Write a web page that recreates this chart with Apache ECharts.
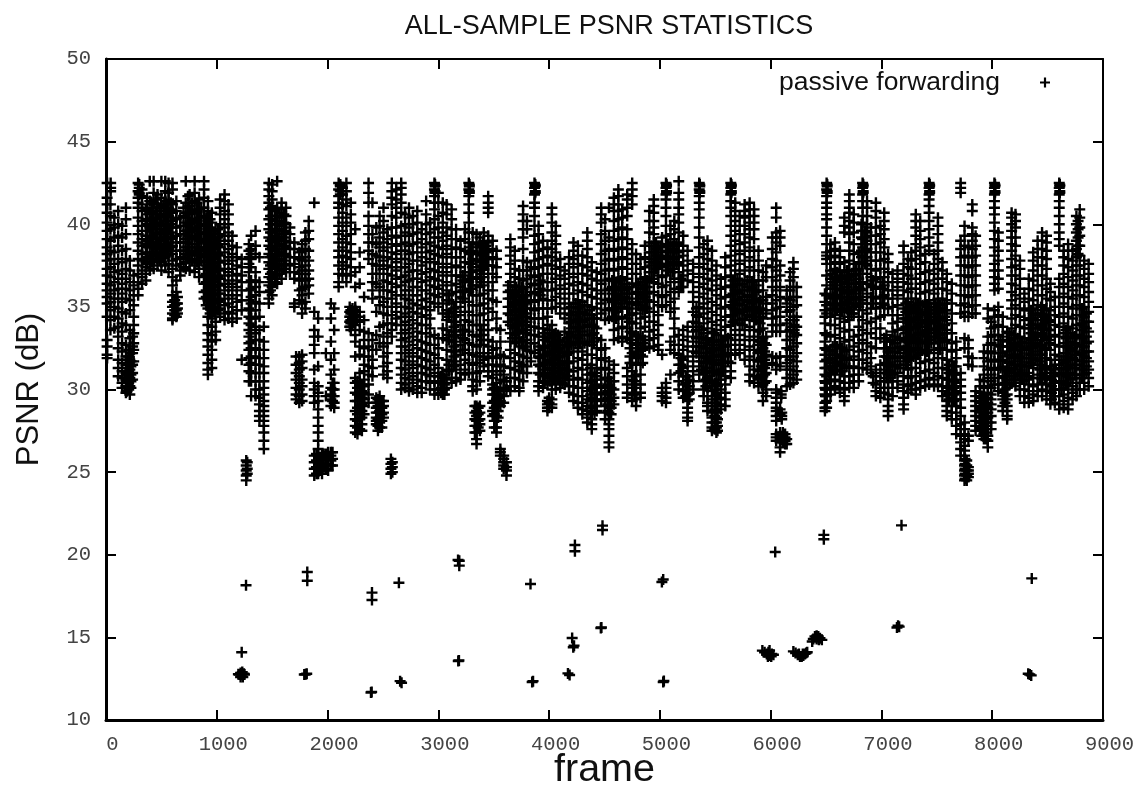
<!DOCTYPE html>
<html><head><meta charset="utf-8">
<style>html,body{margin:0;padding:0;background:#fff}#c{width:1142px;height:788px}</style>
<script src="https://cdn.jsdelivr.net/npm/echarts@6/dist/echarts.min.js"></script>
</head><body><div id="c"></div>
<script>
const titleText = 'ALL-SAMPLE PSNR STATISTICS';
const seriesName = 'passive forwarding';
const xLabel = 'frame';
const yLabel = 'PSNR (dB)';
// each row: frame, then the PSNR readings seen at that frame
const framesA = [
[10,42.5,41.6,41.2,40.7,40.1,39.6,39.1,38.6,38.2,37.8,37.3,36.9,36.4,36,35.6,35.2,34.4,33,32.6,32.1,31.9],
[40,41.2,40.5,39.7,39,38.4,37.9,37.4,36.8,36.3,35.8,35.3,34.8,34.2,33.6],
[75,40.4,39.8,39.2,38.3,37.6,37.1,36.5,36,35.5,35,34.4,33.7],
[110,40.8,40,39.3,38.7,37.9,37.2,36.7,36.1,35.5,34.9,34.3,33.8,33.2,32.5,31.8,31.3,30.8],
[145,39.9,39.2,38.4,37.7,37,36.4,35.8,35.3,34.7,34,33.5,32.8,32.3,31.6,31.1,30.7,30.4,30.1],
[180,41,40.3,39.4,38.5,37.9,37.3,36.7,36.1,35.5,34.6,33.9,32.7,32,31.5,31,30.6,30.2,29.8],
[215,37.8,37.2,36.5,36,35.4,34.8,33.6,33.1,32.4,31.8,31.2,30.7,30.2,29.7],
[250,36.9,36.3,35.7,35.1,34.4,33.9,33.4,32.8,32.4,31.7],
[290,42.5,42,41.6,41.3,41,40.4,39.9,39.4,38.9,38.4,37.9,37.5,37,36.5,36.1,35.7],
[325,42.1,41.7,41.2,40.8,40.2,39.6,39.1,38.7,38.2,37.8,37.2,36.8,36.4],
[360,40.9,40.3,39.9,39.3,38.8,38.3,37.9,37.4,37,36.6,37.7],
[395,42.6,41.4,40.7,40.2,39.8,39.3,38.9,38.3,37.9,37.6,37.2],
[430,42.6,41.9,41.3,41,40.4,40,39.5,39.1,38.6,38.2,37.8,37.3],
[465,41.8,41.2,40.6,40.1,39.7,39.2,38.7,38.3,37.9,37.5],
[500,42.6,41.6,41.1,40.5,40,39.4,39,38.5,38,37.7,37.2],
[535,42.6,42,41.4,40.8,40.2,39.7,39.2,38.8,38.4,38,37.5],
[565,42.5,41.9,41.5,41,40.5,39.9,39.4,38.9,38.5,38.1,37.6,37.1],
[600,42.5,42.1,41.2,40.7,40.2,39.8,39.2,38.7,38.2,37.8,37.3,36.8,36.3,35.7,35.3,35,34.6,34.3,34.2],
[635,41.4,40.8,40.3,39.8,39.3,38.9,38.4,37.9,37.5,36.6,35.9,35.2,34.8,34.4],
[670,40.4,39.9,39.4,38.9,38.4,38,37.6,37.2,36.9],
[720,42.6,41.3,40.7,40.1,39.6,39.1,38.6,38.2,37.7,37.3],
[755,41.8,41.1,40.6,40,39.5,39.1,38.6,38.1,37.7,37.2],
[800,42.6,41.9,41.4,40.9,40.3,39.8,39.3,38.8,38.4,37.9,37.5,37.1],
[840,41.5,40.9,40.4,39.9,39.4,39,38.5,38.1,37.7,37.3,36.8],
[885,42.6,42.1,41.6,41,40.5,40,39.5,39,38.6,38.2,37.7,37.3,36.9,36.4,35.9,35.5],
[920,41.4,40.8,40.2,39.7,39.2,38.8,38.3,37.8,37.4,36.9,36.4,35.9,35.4,34.9,34.4,33.9,33.4,33,32.6,32.1,31.6,31.2,30.9],
[955,40.7,40.1,39.6,39.1,38.6,38.2,37.7,37.2,36.8,36.3,35.8,35.3,34.8,34.3,33.8,33.3,32.9,32.4,31.8,31.3],
[990,39.7,39.2,38.8,38.3,37.9,37.4,36.9,36.5,36,35.5,35,34.6,34.1,33.5,33],
];
const framesB = [
[1030,41.5,41,40.6,40,39.4,39,38.6,38.1,37.7,37.2,36.7,36.3,35.8,35.4,34.9,34.4],
[1070,41.8,41.4,40.8,40.3,39.8,39.3,38.8,38.3,37.8,37.3,36.9,36.4,36,35.5,35.1,34.6,34.2],
[1105,41.2,40.6,40,39.5,39,38.5,38,37.6,37.1,36.6,36.2,35.7,35.2,34.7,34.3],
[1140,39.3,38.7,38.2,37.8,37.3,36.9,36.4,36,35.5,35,34.6,34.1],
[1180,38.6,38,37.5,37,36.6,36.2,35.7,35.3,34.8,34.3],
[1225,37.9,37.4,36.9,36.5,36,35.4,34.8],
[1290,38.8,38.4,38,37.6,37.1,36.5,36,35.4,34.9,34.4,34,33.6,33.2,32.8,32.4,31.9,31.5,31.1,30.5],
[1310,39.3,38.5,38.2,37.9,37.4,36.6,36.1,35.6,35.2,34.8,34.3,33.9,33.4,32.9,32.5,32,31.6,31,30.5,29.6],
[1350,39.6,38.7,38.2,37.1,36.6,36.2,35.7,35.3,34.8,34.3,33.8,33.4,33,32.5,32,31.5,31,30.5,30,29.6],
[1385,38,36.5,35.9,35.2,34.4,33.6,33,32.4,31.9,31.5,31,30.5,30,29.5,29.1,28.7,28.4,28.1],
[1425,33.8,32.9,32.4,31.9,31.4,31,30.5,30.1,29.7,29.3,29,28.7,28.4,28.1,27.8,27.4,26.9,26.4],
[1470,42.5,42.1,41.7,41.3,40.9,40.3,39.7,39.2,38.7,38.2,37.7,37.3,36.8,36.3,35.9,35.5,35.2],
[1500,42.4,42,41.5,41.1,40.5,40,39.5,39.1,38.6,38.1,37.6,37.1,36.7,36.2,35.7],
[1545,42.6,41,40.5,40,39.6,39.1,38.7,38.2,37.8,37.3,36.9,36.4],
[1585,41.3,40.9,40.4,39.9,39.4,39,38.5,38.1,37.6,37.2,36.7],
[1625,41,40.5,40,39.5,39,38.6,38.1,37.6,37.1],
[1660,39.8,39.4,38.9,38.5,38,37.5,37.1],
[1700,38.9,38.5,38,37.6,37.1,36.7,35.2,35],
[1745,38.3,37.9,37.4,37,36.6,36,35.4,32,31.6,31.2,30.8,30.4,30,29.6,29.2],
[1770,38.8,38.4,37.8,37.2,36.7,36.1,35.7,35.2,34.6,32.1,31.7,31.3,30.6,30.2,29.7,29.3],
[1800,39.5,39,38.5,38,37.5,37,36.6,36.2,35.3,34.9],
[1830,40.2,39.6,39.1,38.4,37.8,37.2,36.7,36.3,35.8],
[1880,41.3,34.7,33.6,33.2,32.7,32.2,31.2,30.4,30,29.6,29.2],
[1915,34.3,33.2,31.4,30.2,29.8,29.3,28.8,28.3,27.8,27.4,26.9,26.4,26,25.6,25.2,24.9],
[1950,26,25.8,25.4,25.2,24.9],
[1985,32.2,29.6,26.1,25.8,25.5,25.2],
[2030,35.2,34.3,32.9,31.8,30.9,30.1,29.7,29.4,29,26.2,26,25.7,25.4],
[2060,34.9,33.6,32.2,31.2,30.4,30,29.6,29.2,28.9],
[2100,42.5,42.1,41.7,41.3,41,40.4,39.9,39.4,38.9,38.4,38,37.5,37,36.5,36.2],
[2135,42.2,41.8,41.2,40.7,40.1,39.6,39.1,38.6,38.1,37.7,37.3,36.9],
[2170,42.5,42,41.5,41.1,40.4,39.9,39.3,38.9,38.4,38,37.5,37,36.5],
[2210,41.3,40.6,40.1,39.4,38.8,38.3,37.9,37.4,36.9,34.8,34.6,34.4,34.2,34,33.8,33.6],
[2250,39.7,37.1,36.2,35,34.8,34.5,34.2,33.9,33.3,32.9,32,30.7,30.4,29.8,29.3,28.7,28.2,27.8,27.4],
[2290,38.3,37.4,36.4,34.7,34.4,34.1,33.6,32.6,32.1,31,30.5,30.2,29.9,29.6,29.3,29,28.6,28.2,27.6],
[2330,35.6,34.2,33.5,33,32.5,32,31.5,31.1,30.6,30.2,29.8,29.4,29,28.5],
[2370,42.5,41.9,41.3,40.5,39.9,39.4,38.9,38.4,37.9,33.4,32.6,32,31.4,30.9,30.3,29.7,29.2],
[2405,41.3,39.4,38.9,38.2,37.6,37,36.5,36,35.5,33,32.4,31.8,31.3,30.8],
[2440,39.8,38.8,38.1,37.5,37,36.4,34.7,33.3,32.4,29.5,29.2,28.9,28.6,28.3,28.1,27.9],
[2470,40.5,39.9,39.2,38.6,38,37.5,37,36.2,35.6,35.1,33.8,32.8,29.6,29.3,29,28.7,28.3,28,27.7],
[2505,41,40.2,39.5,38.9,38.4,37.8,37.3,36.6,36,35.3,34.6,33.9,33.2,32.6,32,31.4,30.9,29.3,29,28.6,28.3],
[2540,39.7,39.1,38.6,38,37.5,37,36.5,36,35.5,35,34.5,34,33.4,32.8,32.2,31.6,31.1,30.7],
[2580,42.5,42,41.6,41.2,40.5,39.8,39.3,38.8,38.3,37.9,37.4,36.9,36.4,35.9,35.5,35,34.5,34,33.6,33.2],
[2620,42.1,41.5,41,40.4,39.8,39.2,38.7,38.2,37.7,37.2,36.7,36.2,35.7,35.2,34.7,34.3,33.9],
[2665,42.5,42.2,41.8,41.3,40.7,39.9,39.3,38.8,38.4,37.9,37.4,36.8,36.3,35.7,35,34.4,33.9,33.4,33,32.6,32.2,31.8,31.3,30.9,30.4,30],
[2700,40.6,40,39.5,38.9,38.4,37.9,37.4,36.9,36.5,36,35.5,35,34.6,34.1,33.6,33.1,32.6,32.2,31.7,31.2,30.7,30.3,30.1],
[2735,41,40.4,39.8,39.3,38.7,38.2,37.6,37.1,36.6,36,35.4,34.9,34.4,33.9,33.4,32.9,32.4,32,31.5,31,30.6,30.1,29.9],
[2770,40.5,40,39.4,38.8,38.3,37.8,37.2,36.7,36.2,35.7,35.2,34.7,34.2,33.7,33.2,32.7,32.2,31.7,31.3,30.8,30.4,30],
[2810,40.8,40.1,39.5,38.9,38.3,37.8,37.2,36.7,36.2,35.7,35.1,34.6,34,33.5,33,32.5,32,31.5,31,30.6,30.2,29.8],
[2850,39.7,39.1,38.6,38,37.5,37,36.5,36,35.4,34.9,34.4,33.9,33.4,32.9,32.4,31.9,31.4,31,30.5,30.1,29.8],
[2890,41.4,40.6,40,39.4,38.8,38.3,37.7,37.1,36.6,36,35.5,35,34.5,33.9,33.4,32.8,32.3,31.8,31.3,30.9,30.5],
[2925,40.1,39.5,38.9,38.4,37.9,37.3,36.8,36.3,35.8,35.3,34.8,34.3,33.7,33.2,32.7,32.2,31.7,31.2,30.8,30.4,30],
];
const framesC = [
[2965,42.5,42.1,41.7,41.3,40.9,40.3,39.7,39.2,38.7,38.2,37.7,37.2,36.7,36.2,35.7,35.2,33.3,32.7,32.1,31.5,31,30.5,30,29.7],
[3000,41.9,41.3,40.5,39.8,39.2,38.6,38.1,37.6,37.1,36.6,36.1,35.6,35,33.1,32.5,31.9,31.3,30.8,30.4,30,29.7],
[3040,41.3,40.7,40.1,39.5,39,38.5,38,37.4,36.9,36.3,35.8,35.2,34.6,33.7,33.1,30.9,30.4,30,29.7],
[3075,41.2,40.6,39.8,39.3,38.7,38.2,37.6,37.1,36.5,36,35.4,34.8,34.2,33.6,33,32.4,31.8,31.2,30.6,30.1],
[3120,40.9,40.3,39.7,39.1,38.5,38,37.4,36.9,36.3,35.8,35.2,34.7,34.1,33.5,32.9,32.3,31.7,31.2,30.7,30.4],
[3160,39.7,39.1,38.6,38,37.5,36.9,36.4,35.9,35.3,34.7,34.1,33.5,32.9,32.3,31.7,31.2,30.7,30.5],
[3200,39,38.5,38,37.4,36.8,36.2,35.6,35,34.5,33.9,33.3,32.7,32.1,31.5,31,30.6],
[3240,39.7,39.1,38.4,37.7,37.1,36.5,35.9,35.3,34.7,34.2,33.6,33,32.4,31.8,31.2,30.9],
[3275,42.5,42.1,41.7,41.2,40.7,40.1,39.5,38.9,38.3,37.7,37.1,36.5,35.9,35.3,34.7,34.1,33.5,32.8,32.2,31.6,31],
[3310,39.5,38.9,38.4,37.9,37.4,36.8,36.3,35.7,35.1,34.5,33.9,33.3,32.7,32.1,31.5,31,30.6,30.2,29.9],
[3345,39.4,38.8,38.3,37.8,37.2,36.8,36.3,35.7,35.1,34.5,33.9,33.2,32.6,32,31.6,31,30.5,30,29,28.7,28.4,28.1,27.8,27.4,27,26.7],
[3375,39.2,38.7,38.2,37.7,37.2,36.7,36.2,35.7,35.1,34.5,33.9,33.3,32.7,32.2,31.6,31.1,30.5,29,28.6,28.2,27.9,27.5],
[3410,39.5,39,38.4,37.9,37.3,36.8,36.3,35.8,35.2,34.6,33.9,33.3,32.7,32.2,32,31.8,31.4],
[3450,41.7,41.3,41,40.7,39.3,38.9,38.4,37.9,37.5,37,36.5,36,35.5,34.9,34.2,33.6,33,32.6,32.2,31.9,31.5,31.1,30.8],
[3490,39,38.5,38,37.5,37,36.5,36,35.4,34.7,32.9,32.4,32,31.5,31.1,30.7,30.3,30,29.7,29.2,28.7,28.4],
[3525,38.4,37.9,37.4,36.8,35.3,34.3,33.7,32.5,31.9,31.4,30.9,30.4,30,29.7,29.4,29,28.7,28.4,28.1,27.7,27.4],
[3560,33.6,32.9,32.1,31.5,31.1,30.6,30.1,29.7,29.3,29,26.4,26.2,26],
[3590,32,31.4,30.9,30.5,30.1,29.6,29.2,26,25.8,25.6,25.4,25.2],
[3615,30.5,30,25.6,25.3,25.1,24.8],
[3650,39.1,38.6,38.1,37.6,37,36.5,36,35.5,35,34.5,33.9,33.4,32.9,32.4,31.9,31.3,30.7,30.2,29.9],
[3690,38.4,37.8,37.3,36.8,36.3,35.8,35.3,34.8,34.3,33.8,33.3,32.8,32.2,31.7,31.2,30.7,30.2],
[3730,37.2,36.7,36.2,35.7,35.2,34.7,34.1,33.6,33.1,32.6,32.1,31.6,31.1,30.6,30.1,29.9],
[3765,41.1,40.6,40.2,39.7,39.2,38.5,37.8,37.2,36.6,36.1,35.6,35.1,34.6,34.1,33.6,33,32.5,32,31.5,31,30.5],
[3800,40.2,39.7,37.7,37.2,36.7,36.2,35.7,35.2,34.6,34.1,33.6,33,32.4,31.9,31.4,31],
[3835,37.4,36.9,36.4,35.9,35.4,34.9,34.3,33.8,33.3,32.8,32.3,31.7],
[3868,42.5,42.2,41.8,41.3,41,40.5,39.9,39.3,38.8,38.3,37.8,37.3,36.8,36.3,35.8,35.3,34.8,34.3,33.8,33.3,32.8,32.2],
[3905,39.9,39.4,38.9,38.4,37.9,37.4,36.9,36.4,35.9,35.4,34.9,34.3,33.7,33.2,32.6,32,31.5,31,30.5,30.2,29.9],
[3945,39,38.5,38,37.5,37,36.5,36,35.5,34.9,34.3,33.7,33.2,32.6,32,31.5,31,30.5,30.1],
[3985,38.6,38.1,37.6,37,36.5,36,35.4,34.9,34.4,33.9,33.4,32.9,32.3,31.7,31.2,30.7,30.3,29.3,29.1,28.9,28.7],
[4025,41,40.6,40.1,39.5,39,38.5,38,37.5,37,36.5,36,35.4,34.9,33.9,33.3,32.7,32.1,31.6,31,30.5,30,29.4,29.1,28.9],
[4060,39.9,39.3,38.8,38.3,37.8,37.3,36.7,36.1,35.6,35,33.4,32.8,32.3,31.8,31.3,30.8,30.3,30],
[4100,37.9,37.4,36.9,36.3,35.8,35.2,34.6,33,32.5,32,31.5,31,30.5,30.1],
[4140,37.2,36.7,36.1,35.5,34.9,34.3,33.5,32.9,32.3,31.7,31.2,30.7,30.3],
[4180,38,37.6,37,36.4,35.8,35.2,34.6,34,33.4,32.8,32.2,31.6,31.1,30.6,30.2,29.8],
[4220,38.9,38.4,37.9,37.4,36.8,36.3,35.8,35.2,34.7,34.1,33.5,32.9,32.3,31.7,31.1,30.6,30.2,29.7,29.3],
[4260,38.7,38.1,37.6,37,36.5,36,35.4,34.9,34.3,33.7,33.1,32.5,31.9,31.3,30.7,30.1,29.6,29.2,28.9],
[4300,38.1,37.5,37,36.4,35.9,35.3,34.7,34.1,33.5,32.9,32.3,31.8,31.2,30.6,30.1,29.6,29.2,28.8,28.5],
[4345,39.5,39,38.5,38,37.4,36.9,36.3,35.7,35.1,34.5,33.9,33.3,32.7,32.1,31.5,30.9,30.4,29.9,29.4,29,28.7,28.3,28],
[4385,37.7,37.2,36.7,36.1,35.6,35,34.5,33.9,33.3,32.7,32.1,31.5,31,30.5,30,29.5,29,28.6,28.2,27.9,27.6],
[4430,37.1,36.6,36,35.5,34.9,34.3,33.7,33.1,32.5,31.9,31.3,30.8,30.3,29.8,29.4,29,28.7],
[4470,41,40.6,40.1,39.4,38.8,38.2,37.6,37,36.4,35.8,35.2,34.6,33,32.4,31.8,31.2,30.6,30.1,29.7,29.3],
[4505,40.3,39.6,39,38.4,37.8,37.2,36.6,36,35.4,34.8,34.2,32.5,31.9,31.3,30.7,30.2,29.8,29.4,29,28.6,28.2],
[4540,41,39.2,38.5,37.9,37.3,36.7,36.1,35.5,34.9,34.3,31.7,31.2,30.7,30.2,29.8,29.4,29,28.6,28.2,27.9,27.6,27.2,26.8,26.5],
[4585,41.6,41.2,40.8,40.2,39.6,39,38.4,37.8,37.2,36.6,36,35.4,34.8,34.2,33.6,33,31.5,31,30.5,30,29.5,29.1],
[4625,42.1,41.7,41.2,40.8,40.3,39.7,39.1,38.5,37.9,37.3,36.7,36.1,35.5,34.9,34.3,33.7,33.1],
[4660,40.9,40.4,39.8,39.2,38.6,38,37.4,36.8,36.2,35.6,35,34.4,33.8,33.2,32.9],
[4705,41.8,41.5,41,40.5,39.7,39.1,38.5,37.9,37.3,36.7,36.1,35.5,34.9,34.3,33.7,33.1,31.3,30.8,30.3,29.8,29.5],
[4750,42.5,42.1,41.7,41.2,38.8,38.2,37.6,37,36.4,35.8,35.2,34.6,34,33.4,32.8,32.2,31.6,31.1,30.6,30.1,29.7,29.3],
[4785,38.2,37.6,37,36.4,35.8,35.2,34.6,34,33.3,32.7,32.1,31.5,30.9,30.3,29.8,29.4,29],
[4825,37.9,37.3,36.7,36.1,35.5,34.9,34.3,33.7,33.1,32.5,32.1,31.5,30.9,30.3,29.8,29.5],
[4865,38.7,38,37.4,36.8,36.2,35.6,35,34.4,33.8,33,32.6],
[4905,40.8,40.2,39.5,38.9,38.3,37.7,37.1,36.5,35.9,35.3,34.7,34.1,33.5,33,32.5],
[4945,41.5,41.1,40.7,40.2,39.8,39.4,38.9,38.3,37.7,37.1,36.5,35.9,35.3,34.7,34.1,33.6,33.1,32.6],
[4985,38.7,38.1,37.5,36.9,36.4,35.7,35.1,34.5,33.9,33.3,32.7,32.4],
[5020,39.2,38.6,38,37.4,36.8,36.2,35.6,35,32.1,30.1,29.8,29.6,29.3],
[5055,42.5,42.2,41.8,41.5,41,40.5,39.9,39.3,38.7,38.1,37.5,36.9,36.3,35.7,35.1,30.4,30.1,29.8,29.5,29.2],
[5095,39.9,39.4,38.9,38.3,37.7,37.1,36.5,35.9,35.3,34.7,32.9,32.4,30.9],
[5130,40.2,39.7,39.1,38.5,37.9,37.3,36.7,36.1,35.5,34.9,34.3,33.7,33.2,32.7,32.2],
[5170,42.6,41.9,41.5,41,40.6,40.1,39.5,38.9,38.3,37.7,37.1,36.5,35.9,33.3,32.7,32.1,31.5,31,30.5,30],
];
const framesD = [
[5210,39.3,38.7,38.1,37.5,36.9,36.2,33.6,33,32.4,31.8,31.3,30.8,30.3,29.9,29.5],
[5250,38.4,37.8,37.2,36.6,33.8,33.2,32.6,32,31.4,30.8,30.2,29.7,29.3,28.9,28.6,28.3,28.1],
[5300,37.6,37,36.5,35.9,35.3,34.7,34.1,33.5,32.9,32.3,31.7,31.1,30.5,30],
[5355,42.5,42.1,41.7,41.3,40.9,40.4,39.8,39.2,38.6,38,37.4,36.8,36.2,35.6,35,34.4,33.8,33.2,32.6,32,31.4,30.9],
[5395,38.8,38.2,37.6,37,36.4,35.8,35.2,34.6,34,33.4,32.8,32.2,31.6,31,30.5,30,29.6],
[5430,39,38.5,37.9,37.3,36.7,36.1,35.5,34.9,34.3,33.7,33.1,32.5,31.9,31.3,30.7,30.1,29.6,29.2,29,28.7],
[5470,38.4,37.8,37.2,36.6,36,35.3,34.7,34.1,33.5,32.9,32.3,31.7,31.1,30.5,29.9,29.4,29,28.6,28.3,28,27.7,27.5],
[5510,37.5,36.9,36.3,35.7,35.1,34.5,33.9,33.3,32.7,32.1,31.5,30.9,30.3,29.7,29.2,28.7,28.3,28,27.7,27.4],
[5550,36.7,36.1,35.5,34.9,34.2,33.6,33,32.4,31.8,31.2,30.6,30,29.5,29.1,28.8],
[5590,38,37.4,36.8,36.2,35.6,35,34.4,33.8,33.2,32.6,32,31.4,30.8,30.3,29.8,29.4,29],
[5640,42.5,42.2,41.8,41.4,41,40.5,39.9,39.3,38.7,38.1,37.5,36.9,36.3,35.7,35.1,34.5,33.9,33.3,32.7,32.1,31.6,31.1,30.7],
[5680,41.3,40.8,40.2,39.6,39,38.4,37.8,37.2,36.6,36,35.4,34.8,34.2,33.6,33,32.4,32.1],
[5720,40.5,39.9,39.4,38.8,38.2,37.6,37,36.4,35.8,35.2,34.6,34,33.3,32.7,32.2],
[5765,41.2,40.8,40.4,39.9,39.4,38.9,38.4,37.8,37.2,36.6,36,35.4,34.8,34.2,33.6,33,32.4,31.8],
[5810,41.3,40.9,40.5,40.1,39.7,39.2,38.6,38,37.4,36.8,36.2,35.6,35,34.4,33.8,33.2,32.6,32,31.4,30.9,30.5],
[5850,40.9,40.5,40.1,39.7,39.1,38.4,37.8,37.2,36.6,36,35.4,34.8,34.2,33.6,33,32.4,31.8,31.2,30.8,30.4],
[5890,38.4,37.8,37.2,36.6,36,35.3,34.7,34.1,33.5,32.9,32.3,31.7,31.1,30.6,30.2],
[5930,37.1,36.6,36,35.4,34.8,34.3,33.7,33.1,32.5,32,31.4,30.8,30.3,29.8,29.3],
[5960,37.5,36.8,35.6,35.2,34.6,33.2,32.7,32.1,31.5,31,30.5,30,29.6],
[6015,39.2,38.5,37.9,37.4,36.8,36.2,35.7,35.2,34.8,34.3,33.9,33.5,32,31.6],
[6050,41,40.4,39.5,39.2,38.9,38.3,37.8,37.2,36.6,36,35.4,34.9,34.4,33.9,33.5,31.9,31.5,31.2,30,29.8,29.5,29.2,28.9,28.7,28.4,28.1,27.3,27.1,26.9],
[6085,39.6,39.2,38.7,37.5,36.9,36.2,35.6,35,34.4,33.9,33.5,32,31.4,28.8,28.5,27.4,27.2,27,26.8,26.5,26.2],
[6145,36,35.5,35.2,34.7,34,33.5,33,32.5,32,31.6,31.2,30.7,30.2,27,26.7],
[6175,37.1,36.6,36,35.4,34.8,34.2,33.6,33,32.4,31.8,31.2,30.7,30.3],
[6205,37.7,37.3,36.8,36.2,35.6,35,34.4,33.8,33.2,32.6,32,31.4,30.9,30.4],
[6235,36.2,35.6,35.1,34.4,33.8,33.3,32.8,32.2,31.7,31.1,30.6],
[6490,35.8,35.3,34.8,34.4,34,33.4,32.9,32.5,32.1,31.7,31.3,30.9,30.5,30.1,29.7,29.2,28.9,28.7],
[6505,42.5,42.1,41.7,41.3,41,40.6,40.3,39.8,39.3,38.8,38.3,38.1,37.9,37.6,36.9,36.3,35.7,35.1,34.6,33.3,32.4,31.8,31.3,30.8,30.4,30,29.6,29.3,28.9],
[6540,38.8,38.4,38,37.6,37.2,36.7,36.1,35.5,34.9,34.4,33.9,33.2,32.4,31.9,31.4,30.9,30.5,30.1,29.7],
[6580,38.9,38.5,38.1,37.7,37.3,36.8,36.3,35.7,35.1,34.5,33.9,33.3,32.7,32.1,31.6,31.1,30.6,30.2,30],
[6625,38.4,38,37.6,37.2,36.7,36.1,35.5,34.9,34.3,33.7,33.1,32.5,31.9,31.4,30.9,30.5,30.1,29.8],
[6665,40.4,39.9,39.5,37.7,37.1,36.5,35.9,35.3,34.7,34.1,33.5,32.9,32.3,31.8,31.3,30.8,30.4,30,29.6,29.3],
[6710,41.8,41.4,41,40.7,40.2,39.8,39.4,38.9,38.4,37.8,37.2,36.6,36,35.4,34.8,34.2,33.6,33,32.4,31.8,31.3,30.8,30.4,30.1],
[6750,40.6,40.1,39.5,38.8,38.2,37.6,37,36.4,35.8,35.2,34.6,33.2,32.6,32,31.4,30.9,30.5,30.1],
[6795,38.3,37.7,37.2,36.7,36.2,35.6,35,34.4,33.8,33.3,32.8,32.3,31.8,31.3,30.9,30.5],
[6830,42.5,42.2,41.8,41.4,41,40.5,40.1,39.6,39.1,38.6,38.1,37.6,37,36.5,36,35.4,34.8,34.2,33.6,33,32.4,31.8,31.3],
[6870,41.4,41,40.5,40,39.5,39,38.5,38,37.5,37,36.4,35.8,35.2,34.6,34,33.4,32.8,32.2,31.6,31.2],
[6905,39.8,39.3,38.8,38.3,37.8,37.3,36.8,36.3,35.6,34.9,34.1,33.4,32.6,31.9,31.4,31],
[6950,41.3,40.8,40.4,39.8,39.3,38.8,38.3,37.8,37.2,36.7,36.1,35.5,34.9,34.3,33.7,33.1,32.5,31.2,30.8,30.3,29.9,29.6],
[6990,39.9,39.4,38.9,38.3,37.8,37.3,36.8,36.2,35.6,35,34.4,33.7,33.1,31.5,31,30.5,30.1,29.8,29.5],
[7025,40.7,40.2,39.7,39.1,38.6,37.9,37.3,36.8,36.3,35.7,35.1,34.5,33.1,32.5,32,31.5,31,30.5,30.1,29.8],
[7060,38.2,37.7,37.1,36.5,36,35.5,34.9,32.3,31.9,31.4,30.9,30.5,30.1,29.7,29.4,29,28.7,28.4],
[7100,37,36.5,36,35.5,35,34.5,34,33.5,33,32.5,31.9,31.4,30.9,30.5,30.1,29.6],
[7145,37.2,36.7,36.2,35.7,35.1,34.5,34.1,33.6,33,32.5,32,31.5,31,30.5,30.1],
[7200,38.7,38.3,37.6,37,36.5,36,35.5,34.9,34.3,33.7,33.1,32.4,31.9,31.3,30.8,30.3,29.9,29.5,29.1,28.8],
[7240,37.9,37.4,36.9,36.4,35.9,35.3,34.8,34.2,33.6,33,32.4,31.8,31.2,30.7,30.2,29.8],
[7270,38.3,37.8,37.3,36.7,36.1,35.5,34.9,34.3,33.7,33.1,32.5,31.9,31.3,30.8,30.3,30],
[7310,40.6,40.2,39.8,39.3,38.8,38.4,37.9,37.3,36.7,36.1,35.5,34.9,34.3,33.7,33.1,32.5,31.9,31.3,30.8,30.4,30,29.7],
[7350,40.2,39.6,39.1,38.6,38.1,37.6,37,36.4,35.8,35.2,34.6,34,33.4,32.8,32.2,31.6,31,30.5,30.1],
[7395,38.2,37.7,37.1,36.5,35.9,35.3,34.7,34.1,33.5,32.9,32.3,31.7,31.1,30.6,30.2],
[7430,42.5,42.2,41.8,41.5,41.1,40.7,40.2,39.7,39.2,38.7,38.4,37.2,36.6,36,35.4,34.8,34.2,33.6,33,32.4,31.8,31.2,30.7,30.3],
[7475,38.2,37.6,37,36.4,35.8,35.2,34.6,34,33.4,32.8,32.2,31.6,31,30.6,30.2],
[7510,40.4,39.9,39.4,38.9,38.4,37.9,37.3,36.7,36.1,35.5,34.9,34.3,33.7,33.1,32.5,31.9,31.3,30.8,30.3],
[7550,37.7,37.2,36.7,36.1,35.5,34.9,34.3,33.7,33.1,32.5,31.9,31.3,30.7,30.2,29.9,29.6],
[7590,37,36.5,36,35.4,34.8,34.2,33.6,33,32.4,31.8,31.2,30.6,30.1,29.7,29.3,29,28.7,28.4],
[7635,36.4,35.8,35.2,34.6,34,33.4,32.8,32.3,31.7,31.1,30.5,30,29.5,29,28.6,28.2],
[7675,32.9,32.4,31.9,31.4,30.9,30.4,29.9,29.4,29,28.6,28.2,27.8,27.3],
[7715,42.5,42.2,41.9,39,38.5,38,37.5,36.9,36.3,35.7,35.1,34.6,31,30.6,30.2,29.8,29.4,28.9,28.4,27.9,27.6,27.2,26.8,26.4,26],
[7750,39.9,39.3,38.7,38.1,37.5,36.9,36.3,35.7,35.2,34.7,34.4,33.1,32.5,28,27.6,27.3,27,26.6,26.3,26,25.7,25.4,25.1,24.8,24.5],
[7785,38.6,38,37.4,36.8,36.2,35.6,35,34.4,33,32.5,32,31.5,27.2,26.9,25.3,25.1,24.9,24.7],
[7820,41.2,40.8,39.8,39.4,39,38.5,38,37.5,36.9,36.3,35.7,35.1,34.6,31.9,31.4],
[7850,39.3,38.7,38.1,37.5,36.9,36.3,35.7,35.1,34.6,29.9,29.6,29.3,29,28.7,28.4,28.1,27.8,27.5],
[7890,30.6,30.2,29.8,29.5,29.2,28.9,28.6,28.3,28,27.7,27.5],
[7925,32.3,31.9,31.4,30.9,30.5,30.1,29.7,29.4,29.1,28.8,28.5,28.2,27.9,27.6,27.3,27],
[7960,34.9,34.3,33.2,32.7,32.2,31.7,31.2,30.7,30.2,29.8,29.5,29.2,28.9,28.6,28.3,28,27.6,27.2,26.9,26.5],
[7990,34.1,33.7,33.2,32.8,32.3,31.8,31.3,30.9,30.5,30.1,29.7,29.4,29.1,28.8,28.4,28,27.6],
[8020,42.5,42.2,41.8,41.4,41,40.6,40.1,39.6,39.1,38.6,38.1,37.6,37.2,36.8,36.4,36,34.8,34.4,33.8,33.3,32.7,32.2,31.7,31.2,30.7,30.3],
[8055,39.5,39,38.4,37.8,37.2,36.7,36.1,35,34.5,33.9,33.3,32.7,32.2,31.7,31.2,30.7,30.3,29.9],
[8095,34.4,33.8,33.2,32.6,32,31.4,30.8,30.3,29.8,29.4,29,28.7],
[8135,33.5,32.9,32.3,31.7,31.1,30.6,30.1,29.7,29.4,29,28.7,28.4,28.2],
[8175,40.7,40.4,40,39.6,39.2,38.8,38.4,37.9,37.4,36.9,36.4,35.9,35.4,34.9,34.3,33.7,33.1,32.5,31.9,31.3,30.8,30.4],
[8210,40.6,40.2,39.8,39.2,38.7,38.1,37.5,36.9,36.3,35.7,35.1,34.5,33.9,33.3,32.7,32.1,31.5,31,30.6,30.2],
[8250,37.8,37.3,36.7,36.1,35.5,34.9,34.4,33.8,33.2,32.6,32,31.4,30.9,30.4,30,29.6],
[8290,35.8,35.3,34.8,34.2,33.7,33.1,32.5,31.9,31.4,30.9,30.5,30,29.6,29.2],
[8330,36.7,36.1,35.5,34.9,34.3,33.7,33.1,32.5,31.9,31.4,30.8,30.3,29.9,29.5,29.2],
[8370,38.3,37.8,37.2,36.6,36,35.4,34.9,34.3,33.7,33.1,32.5,31.9,31.3,30.7,30.2,29.7,29.3],
[8410,39,38.5,38,37.5,36.9,36.3,35.7,35.1,34.5,33.9,33.3,32.7,32.1,31.5,30.9,30.3,29.9,29.6],
[8450,39.5,39,38.5,38,37.5,36.9,36.3,35.7,35.1,34.5,33.9,33.3,32.7,32.1,31.5,30.9,30.4,30,29.6],
[8490,39.3,38.9,38.4,37.9,37.3,36.7,36.1,35.5,34.9,34.3,33.7,33.1,32.5,31.9,31.3,30.8,30.3,29.9,29.4],
[8525,36.4,35.9,35.4,34.8,34.2,33.6,33,32.4,31.8,31.2,30.7,30.2,29.8,29.4,29.1],
[8565,35.6,35,34.5,33.9,33.3,32.7,32.1,31.5,31,30.5,30,29.6,29.2],
[8605,42.5,42.2,41.8,41.4,41,40.5,40,39.5,39.1,38.7,36.7,36.2,35.6,35,34.4,33.8,33.2,32.6,32,31.5,31,30.5,30,29.6,29.1,28.8],
[8645,38.4,38,37.5,37,36.4,35.8,35.2,34.6,34,33.4,32.8,32.2,31.6,31,30.5,30.1,29.7,29.3,28.9],
[8685,38.8,38.4,37.9,37.4,36.8,36.2,35.6,35,34.4,33.8,33.2,32.6,32,31.4,30.9,30.4,30,29.5,29.1,28.8],
[8725,38.4,37.8,37.2,36.6,36,35.5,34.9,34.3,33.7,33.1,32.5,31.9,31.3,30.7,30.2,29.8,29.4],
[8760,40.5,40,39.5,39,38.5,38,37.5,36.9,36.3,35.7,35.1,34.5,33.9,33.3,32.7,32.1,31.5,30.9,30.4,30,29.6],
[8790,40.9,40.4,39.8,39.3,38.7,38.1,37.5,36.9,36.3,35.7,35.1,34.5,33.9,33.3,32.7,32.1,31.5,30.9,30.4,30],
[8830,37.8,37.3,36.7,36.2,35.6,35,34.4,33.8,33.2,32.6,32,31.4,30.9,30.4,30],
[8870,37.6,37,36.5,35.9,35.3,34.7,34.1,33.5,32.9,32.3,31.7,31.2,30.7,30.2],
];
// tight dark clumps
const clumps = [
[1266,25.7,25.4,25.1,24.8,24.5],[1275,25.6,25.2,24.9],[2572,25.8,25.5,25.2,24.9],[2585,25.6,25.3,25],
[1880,26,25.6,25.2,24.8],[1900,26.1,25.7,25.3,24.9],[1930,25.9,25.5,25.1],[1965,26.1,25.7,25.3],[2005,26.2,25.9,25.5,25.1],[2045,26.2,25.8,25.4],
[1225,31.8],[190,31.8,31.3,30.9,30.5,30.2,29.9],[205,32.4,32,31.5,31.1,30.8,30.4,30],[225,32.2,31.7,31.4,30.9,30.5,30.1],[240,33.2,32.6,32.2,31.5,31,30.6],
[620,35.4,35.1,34.8,34.5],[645,35.6,35.2,34.9,34.6],[2200,35,34.7,34.4,34.1,33.8],[2225,34.9,34.6,34.3,34],
[2045,30.4,30,29.6,29.3],[1716,32,31.5,31,30.6,30.1,29.7,29.4],[2270,30.5,30.1,29.7,29.3,28.9,28.5,28.1,27.7,27.3],[2310,30.3,29.9,29.5,29.1,28.7,28.3,27.9,27.5],[2455,29.4,29,28.6,28.2,27.8,27.5],[2490,29.3,28.9,28.5,28.1,27.7],
[370,41.6,41,40.6,40,39.6,39,38.6,38,37.6],[415,41.2,40.8,40.2,39.7,39.2,38.7,38.1,37.7],[450,41.5,40.8,40.3,39.9,39.4,38.9,38.5,38.1],[485,41,40.4,39.9,39.4,38.8,38.3,37.8],
[520,41.1,40.6,40,39.5,39.1,38.6,38.1],[550,41.2,40.6,40,39.6,39.1,38.6,38.2],[585,41.3,40.9,40.4,40,39.5,39.1,38.6],[700,41,40.5,39.9,39.4,38.9,38.4,37.9,37.4],
[740,41.7,41,40.4,39.9,39.3,38.9,38.4,37.9],[775,41.3,40.8,40.2,39.7,39.2,38.8,38.3,37.8],[820,41.3,40.7,40.1,39.6,39.1,38.6,38.2,37.7],[860,41,40.5,40,39.5,39.1,38.6,38.2,37.8],
[905,40.4,39.9,39.4,38.9,38.4,38,37.5,37,36.5,36,35.6,35.1],[940,40.3,39.8,39.3,38.9,38.5,38,37.5,37,36.6,36.1,35.6,35.1,34.6],[975,39.4,38.9,38.5,38,37.5,37.1,36.7,36.2,35.7,35.2,34.7],[1010,39.7,39.2,38.7,38.2,37.7,37.3,36.8,36.3,35.8,35.3,34.8],
[1485,41,40.5,40,39.5,39,38.5,38,37.5,37,36.5,36],[1525,40.8,40.2,39.7,39.3,38.9,38.4,37.9,37.4,37,36.5],[1565,40.7,40.2,39.7,39.2,38.8,38.3,37.9,37.5,37],[1605,40.6,40.1,39.6,39.2,38.7,38.2,37.8,37.3],
[42,42.5,42.2,42],[300,42.4,42.2,41.9,41.8],[2115,42.4,42.3,42,41.8],[2970,42.4,42.3,42,41.9],[3280,42.4,42.3,42,41.9],[3875,42.4,42.3,42,41.9],[5060,42.4,42.3,42,41.9],[5360,42.4,42.3,42,41.9],[5645,42.4,42.3,42,41.9],[6510,42.4,42.3,42,41.9],[6835,42.4,42.3,42,41.9],[7435,42.4,42.3,42,41.9],[8025,42.4,42.3,42,41.9],[8610,42.4,42.3,42,41.9],
[3025,30.8,30.4,30.1,29.8],[3055,30.7,30.3,30,29.7],[3330,29,28.6,28.2,27.8,27.4],[3360,28.9,28.5,28.1,27.7],[3505,30.1,29.7,29.3,28.9,28.5,28.1,27.7],[3540,29.9,29.5,29.1,28.7,28.3],
[3705,36.2,35.7,35.2,34.8,34.3,33.9,33.4,32.9],[3725,35.9,35.4,34.9,34.5,34,33.5],[4000,29.5,29.2,28.9],[4375,31.3,30.9,30.5,30.1,29.7,29.3,28.9,28.5],[4410,31,30.6,30.2,29.8,29.4,29,28.6],
[4530,30.7,30.3,29.9,29.5,29.1,28.7],[4560,30.5,30.1,29.7,29.3,28.9,28.5],[4725,36.2,35.8,35.3,34.9,34.5,34.1],[4845,33.2,32.8,32.4,32,31.6],[4770,30.8,30.5,30.1,29.7],[5235,30.8,30.4,30,29.6],[5265,30.6,30.2,29.8,29.4],
[5495,30.4,30,29.6,29.2,28.8,28.4,28,27.6],[5520,30.2,29.8,29.4,29,28.6,28.2,27.8,27.5],[5885,33.2,32.7,32.2,31.7,31.2,30.7],[5915,32.9,32.4,31.9,31.4,30.9,30.4],[3405,38.9,38.6,38.2,37.8,37.4],[3430,38.7,38.3,37.9,37.5],
[6130,27.3,27.1,26.9,26.7],[6110,27.4,27.2,27,26.8],[6095,29.9,29.7,29.5],[6100,28.6,28.4,28.2],[6212,34.2,33.9,33.6,33.4],[6495,30.4,30,29.6,29.2],[6700,37.2,36.8,36.4,36,35.6,35.2,34.8,34.4],[6820,40,39.6,39.2,38.8,38.4,38,37.6],
[7490,35.2,34.8,34.4,34,33.6,33.2],[7905,29.6,29.2,28.8,28.4,28,27.6,27.2],[7945,29.4,29,28.6,28.2,27.8,27.4,27],[7755,25.8,25.5,25.2,24.9,24.6],[7770,25.7,25.4,25.1,24.8,24.5],
[8440,35,34.6,34.2,33.8,33.4,33],[8465,34.8,34.4,34,33.6,33.2],[8535,31.4,31,30.6,30.2,29.8,29.4],[8555,31.2,30.8,30.4,30,29.6],[8775,40.2,39.7,39.2,38.7,38.2],
];
// second reading of the black bands between the main columns
const bands = [
[3095,35.7,35.4,34.6,34.4,33.3,33,31.5,31.1],[3140,34.9,34.4,33.8,33.2,32.6,32,31.4],[3220,36.9,36.6,36,35.5,33.6,33.1,32.4],[3295,38.6,38.2,37.6,37.1,36.7,36.1],[3390,38.6,38.1,37.5,37,36.5,33.6,33],
[3630,36.3,35.9,35.5,35,34.6,34.1],[3670,36,35.6,35.1,34.7,34.2,33.7,33.1],[3750,36.2,35.7,35.3,34.8,34.4,33.9,32.9,31.4],[3785,35.7,35.3,34.9,34.4,33.9,33.4,32.6],[3920,36.6,36.1,35.7,32.4,31.9,31.4,30.9],
[3960,33.4,33,32.5,32.1,31.6,31.2,30.8,30.4],[4005,33.6,33.1,32.6,32.2,31.8,31.3,30.9,30.5],[4045,33.2,32.8,32.3,31.9,31.5,31,30.6],[4080,33.3,32.9,32.4,32,31.5,31.1,30.7],[4120,32.7,32.2,31.7,31.3,30.9,30.4],[4160,33.1,32.6,32.1,31.6,31.2,30.8],
[4200,35,34.5,34.1,33.7,33.2,32.7],[4240,35.2,34.7,34.2,33.8,33.3,32.8],[4280,35,34.6,34.2,33.7,33.3,32.9],[4320,35.1,34.6,34.2,33.8,33.3,32.8],[4365,34.8,34.3,33.8,33.3,32.9],[4405,34.3,33.8,33.4,32.9],
[4570,36.6,36.2,35.8,35.3,34.9,34.4],[4605,36.5,36.1,35.7,35.2,34.7,34.3],[4645,36.6,36.2,35.8,35.4,35],[4680,36.4,36,35.6,35.2],[4730,33.5,33,32.5,32,31.6],[4805,36.3,35.9,35.5,35.1,33.2,32.8,32.3,31.9],[4845,36.5,36.1,35.7,35.3,34.8],[4885,36.6,36.2,35.8,35.4,34.9],
[4925,38.7,38.3,37.9,37.5,37.1,36.7],[4965,38.9,38.5,38.1,37.7,37.3],[5005,38.7,38.3,37.9,37.6],[5075,38.8,38.4,38,37.6,37.2],[5115,38.7,38.3,37.9,37.5,37.1],[5150,38.8,38.4,38,37.6],
[5190,36.7,36.2,31.9,31.5,31.1],[5330,34.9,34.5,34,33.6,33.1,32.6,32.2],[5375,33.6,33.1,32.6,32.2,31.7,31.2],[5415,33,32.5,32,31.6,31.1,30.6,30.2],[5450,32.7,32.2,31.8,31.3,30.8,30.4],[5490,33.4,32.9,32.4,32,31.6,31.1],[5530,32.9,32.5,32,31.5,31,30.6],[5570,33,32.6,32.1,31.6,31.1],[5615,33.1,32.7,32.2,31.7],
[5660,36.6,36.2,35.8,35.3,34.9,34.5,34.1],[5700,36.7,36.3,35.9,35.5,35.1,34.7,34.2],[5745,36.4,36,35.6,35.1,34.7,34.3,33.9],[5790,36.6,36.2,35.7,35.3,34.9,34.5],[5830,36.5,36.1,35.7,35.2,34.8,34.4],[5870,36.3,35.9,35.5,35,34.6,34.2],[5905,35.4,34.9,34.4,34,33.6],[5945,32.8,32.3,31.8,31.3,30.9,30.4],
[6530,32.3,31.9,31.4,31,30.6],[6560,37,36.5,36.1,35.6,35.2,34.8,32.6,32.1,31.6,31.2],[6600,37.1,36.6,36.1,35.7,35.2,34.8,32.6,32.1,31.7,31.2],[6645,36.9,36.5,36,35.6,35.1,34.7,32.5,32,31.5,31.1],[6685,37.2,36.7,36.2,35.8,35.3,34.9,32.4,31.9,31.4],[6730,36.9,36.4,35.9,35.5,35,34.6],[6770,37.3,36.9,36.4,36,35.5,35.1],[6810,37,36.5,36.1,35.6,35.2],
[6850,39.6,39.2,38.8,38.4,38,37.6],[6925,36.6,36.2,35.6,35.2,30.8,30.4],[7010,36.5,36.1,35.6,35.2],[7045,33.3,32.9,32.5,32,31.6,31.2,30.7],[7080,32.9,32.5,32,31.5,31.1,30.7],[7120,33.2,32.8,32.3,31.9,31.4,31],[7170,33.1,32.6,32.2,31.7,31.3],
[7220,35.2,34.7,34.3,33.8,33.4,32.9,32.5,32,31.5],[7255,35,34.6,34.1,33.7,33.2,32.8,32.3,31.9],[7290,35.1,34.7,34.2,33.8,33.3,32.9,32.4,32],[7330,35.2,34.8,34.4,33.9,33.4,33,32.5,32.1],[7370,35.1,34.6,34.2,33.8,33.3,32.9,32.4],[7410,35,34.5,34.1,33.6,33.2,32.8,32.3],[7450,35,34.6,34.1,33.7,33.2,32.8],[7530,35.1,34.7,34.2,33.8,33.3,32.9,32.4],[7570,35.2,34.8,34.4,33.9,33.4,32.9],[7610,31.5,31,30.6,30.2,29.8,29.4],[7655,31.4,30.9,30.5,30.1,29.7,29.3],
[8075,33,32.6,32.2,31.8,31.3],[8115,30.8,30.4,30,29.6,29.2],[8155,33.4,33,32.6,32.1,31.6,31.2,30.8,30.3],[8195,33.3,32.8,32.4,32,31.5,31,30.6],[8230,33.1,32.6,32.1,31.7,31.2,30.8],[8270,32.9,32.4,31.9,31.5,31,30.6],[8310,32.8,32.4,31.9,31.4,31,30.6],
[8350,34.8,34.3,33.9,33.4,33,32.6,32.1,31.6],[8390,34.6,34.2,33.7,33.2,32.8,32.3,31.8],[8430,32.6,32.1,31.7,31.2,30.7],[8475,32.4,31.9,31.4,31,30.6],[8510,34.5,34.1,33.6,33.2,32.8],[8625,31.8,31.3,30.9,30.4,30],[8665,33.6,33.1,32.6,32.2,31.7,31.2,30.8,30.3],[8705,33.4,32.9,32.4,31.9,31.5,31,30.6],[8745,33.2,32.8,32.3,31.8,31.3,30.9],[8810,34.9,34.5,34,33.6,33.1,32.6,32.2,31.7,31.2,30.7],[8850,34.6,34.1,33.7,33.2,32.8,32.3,31.9,31.4,31],
];
const lowFrames = [1264,1817,1817,2401,2401,2644,3178,3189,3189,3832,4233,4233,4482,4482,5030,5018,6041,6480,6480,7181,8357,
1225,1195,1205,1215,1225,1235,1245,1250,1215,1230,1802,1790,1812,2392,2398,2655,2668,3180,3186,3847,3855,4208,4218,4225,4467,4472,4170,4185,5030,5036,
5925,5945,5965,5980,5995,6010,6025,5975,5990,6005,6205,6225,6245,6265,6280,6295,6310,6330,6255,6290,6320,6375,6385,6400,6415,6430,6445,6462,6415,6435,7140,7150,7160,8325,8339,8352];
const lowPsnr = [18.15,18.96,18.43,17.71,17.26,18.31,19.68,19.64,19.34,18.23,20.59,20.21,21.76,21.5,18.5,18.35,20.17,21.2,20.94,21.78,18.57,
14.1,12.77,12.75,12.85,12.75,12.6,12.8,12.75,12.6,12.9,12.77,12.75,12.8,11.66,11.7,12.35,12.25,13.57,13.6,12.3,12.35,14.96,14.4,14.5,15.57,15.6,12.82,12.72,12.3,12.36,
14.2,14.1,14,14.1,13.9,14,13.95,13.85,14.2,13.85,14.15,14.05,13.95,13.85,13.85,13.9,14,14.1,14,14,14.05,14.75,14.9,15.05,15.1,15.05,14.95,14.85,14.9,14.85,15.6,15.7,15.65,12.8,12.75,12.7];

const plus = 'path://M4.3 0h2.4v4.3h4.3v2.4h-4.3v4.3h-2.4v-4.3h-4.3v-2.4h4.3z';
const expand = rows => rows.flatMap(r => r.slice(1).map(v => [r[0], v]));
const points = [...expand(framesA), ...expand(framesB), ...expand(framesC), ...expand(framesD), ...expand(clumps), ...expand(bands),
  ...lowFrames.map((f, i) => [f, lowPsnr[i]])];
const tickFont = {fontFamily:'Liberation Mono', fontSize:20.5, color:'#444', formatter:v => String(v)};
const xAx = (show, pos, w) => ({type:'value', min:0, max:9000, interval:1000, position:pos, splitLine:{show:false},
  axisLine:{show:true, onZero:false, lineStyle:{color:'#000', width:w}},
  axisTick:{show:true, inside:true, length:10, lineStyle:{color:'#000', width:2}},
  axisLabel:show ? {...tickFont, margin:14, padding:[0,0,0,13]} : {show:false}});
const yAx = (show, pos, w) => ({type:'value', min:10, max:50, interval:5, position:pos, splitLine:{show:false},
  axisLine:{show:true, onZero:false, lineStyle:{color:'#000', width:w}},
  axisTick:{show:true, inside:true, length:10, lineStyle:{color:'#000', width:2}},
  axisLabel:show ? {...tickFont, margin:15} : {show:false}});
const chart = echarts.init(document.getElementById('c'), null, {renderer:'canvas'});
chart.setOption({
  animation:false, backgroundColor:'#fff',
  title:{text:titleText, left:604, top:8, textAlign:'center',
    textStyle:{fontFamily:'Liberation Sans', fontSize:27, fontWeight:'normal', color:'#111'}},
  grid:{left:106, right:39, top:59, bottom:68, containLabel:false, outerBoundsMode:'none'},
  legend:{data:[{name:seriesName, icon:plus}], top:64, right:87, align:'right', itemWidth:10, itemHeight:10,
    itemStyle:{color:'#000', borderWidth:0},
    textStyle:{fontFamily:'Liberation Sans', fontSize:26.5, color:'#111', padding:[0,35,0,0]}},
  xAxis:[{...xAx(true,'bottom',3), name:xLabel, nameLocation:'middle', nameGap:30, nameMoveOverlap:false,
      nameTextStyle:{fontFamily:'Liberation Sans', fontSize:39.5, color:'#111'}}, xAx(false,'top',2)],
  yAxis:[{...yAx(true,'left',3), name:yLabel, nameLocation:'middle', nameGap:61, nameMoveOverlap:false,
      nameTextStyle:{fontFamily:'Liberation Sans', fontSize:31, color:'#111'}}, yAx(false,'right',2)],
  series:[{name:seriesName, type:'scatter', symbol:plus, symbolSize:11, large:false,
    itemStyle:{color:'#000', opacity:1}, data:points, clip:true}]
});
</script></body></html>
